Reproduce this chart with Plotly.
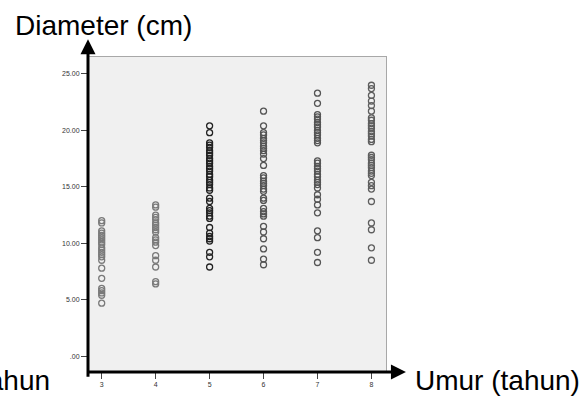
import plotly.graph_objects as go

ages = [3, 4, 5, 6, 7, 8]

diam_3 = [12.0, 11.8, 11.1, 10.9, 10.7, 10.5, 10.3, 10.1, 9.9, 9.6, 9.4, 9.2, 9.0, 8.8, 8.5,
          7.8, 6.9, 6.0, 5.8, 5.6, 5.4, 4.7]
diam_4 = [13.4, 13.2, 12.5, 12.3, 12.1, 11.8, 11.6, 11.4, 11.2, 11.0, 10.5, 10.3, 10.1, 9.8,
          8.9, 8.5, 7.9, 6.6, 6.4]
diam_5 = [20.4, 19.8, 18.9, 18.7, 18.5, 18.2, 18.0, 17.8, 17.5, 17.3, 17.1, 16.8, 16.6, 16.4,
          16.1, 15.9, 15.6, 15.4, 15.2, 14.9, 14.7, 14.0, 13.7, 13.1, 12.9, 12.7, 12.4, 12.2,
          11.4, 10.9, 10.6, 10.4, 10.2, 9.2, 8.8, 7.9]
diam_6 = [21.7, 20.4, 19.8, 19.6, 19.3, 19.1, 18.9, 18.6, 18.4, 18.2, 17.9, 17.5, 16.9, 16.0,
          15.8, 15.5, 15.3, 15.1, 14.8, 14.6, 14.0, 13.8, 13.1, 12.8, 12.6, 12.4, 11.5, 11.0,
          10.4, 9.5, 8.6, 8.1]
diam_7 = [23.3, 22.4, 21.4, 21.2, 21.0, 20.7, 20.5, 20.3, 20.0, 19.8, 19.6, 19.3, 19.1, 18.9,
          17.3, 17.1, 16.8, 16.6, 16.4, 16.1, 15.9, 15.6, 15.4, 15.2, 14.9, 14.3, 13.9, 13.4,
          12.7, 11.1, 10.5, 9.2, 8.3]
diam_8 = [24.0, 23.7, 23.1, 22.6, 22.2, 21.7, 21.1, 20.9, 20.6, 20.4, 20.2, 19.9, 19.7, 19.5,
          19.2, 19.0, 17.8, 17.6, 17.4, 17.1, 16.9, 16.7, 16.4, 16.2, 16.0, 15.4, 15.1, 14.8,
          13.7, 11.8, 11.2, 9.6, 8.5]

groups = [diam_3, diam_4, diam_5, diam_6, diam_7, diam_8]
marker_colors = ["#7a7a7a", "#7a7a7a", "#222222", "#555555", "#555555", "#5e5e5e"]

y_tickvals = [0, 5, 10, 15, 20, 25]
y_ticktext = [".00", "5.00", "10.00", "15.00", "20.00", "25.00"]
x_tickvals = ages
x_ticktext = ["3", "4", "5", "6", "7", "8"]

y_title = "Diameter (cm)"
x_title = "Umur (tahun)"
x_title_clipped = "tahun"

FONT = "Liberation Sans, Arial, sans-serif"

fig = go.Figure()
for age, vals, col in zip(ages, groups, marker_colors):
    fig.add_trace(go.Scatter(
        x=[age] * len(vals), y=vals, mode="markers",
        marker=dict(symbol="circle-open", size=6, color=col, line=dict(width=1.3, color=col)),
        showlegend=False, hoverinfo="x+y",
    ))

fig.update_layout(
    width=586, height=400,
    margin=dict(l=88, r=200, t=57, b=25),
    paper_bgcolor="white", plot_bgcolor="#f0f0f0",
    font=dict(family=FONT, color="#333"),
    xaxis=dict(range=[2.746, 8.27], tickvals=x_tickvals, ticktext=x_ticktext,
               showgrid=False, zeroline=False, showline=True, linecolor="#a8a8a8",
               linewidth=1, mirror=True, ticks="outside", ticklen=6, tickcolor="#444",
               tickfont=dict(size=7, color="#333", family=FONT)),
    yaxis=dict(range=[-1.4, 26.5], tickvals=y_tickvals, ticktext=y_ticktext,
               showgrid=False, zeroline=False, showline=True, linecolor="#a8a8a8",
               linewidth=1, mirror=True, ticks="outside", ticklen=6, tickcolor="#444",
               tickfont=dict(size=7, color="#333", family=FONT)),
)

# axis arrows
fig.add_annotation(xref="paper", yref="paper", x=0.0, y=1.0566, ax=0, ay=339,
                   axref="pixel", ayref="pixel", text="", showarrow=True,
                   arrowhead=2, arrowwidth=3, arrowsize=1, arrowcolor="black")
fig.add_annotation(xref="paper", yref="paper", x=1.067, y=0.0, ax=-320, ay=0,
                   axref="pixel", ayref="pixel", text="", showarrow=True,
                   arrowhead=2, arrowwidth=3, arrowsize=1, arrowcolor="black")

# titles
fig.add_annotation(xref="paper", yref="paper", x=-0.2517, y=1.1006, xanchor="left",
                   yanchor="middle", text=y_title, showarrow=False,
                   font=dict(size=28, color="black", family=FONT))
fig.add_annotation(xref="paper", yref="paper", x=1.0906, y=-0.0283, xanchor="left",
                   yanchor="middle", text=x_title, showarrow=False,
                   font=dict(size=28, color="black", family=FONT))
fig.add_annotation(xref="paper", yref="paper", x=-0.1208, y=-0.0283, xanchor="right",
                   yanchor="middle", text=x_title_clipped, showarrow=False,
                   font=dict(size=28, color="black", family=FONT))

fig.write_html("out.html",
               config={"displayModeBar": False},
               post_script="document.body.style.margin='0';document.body.style.overflow='hidden';")
